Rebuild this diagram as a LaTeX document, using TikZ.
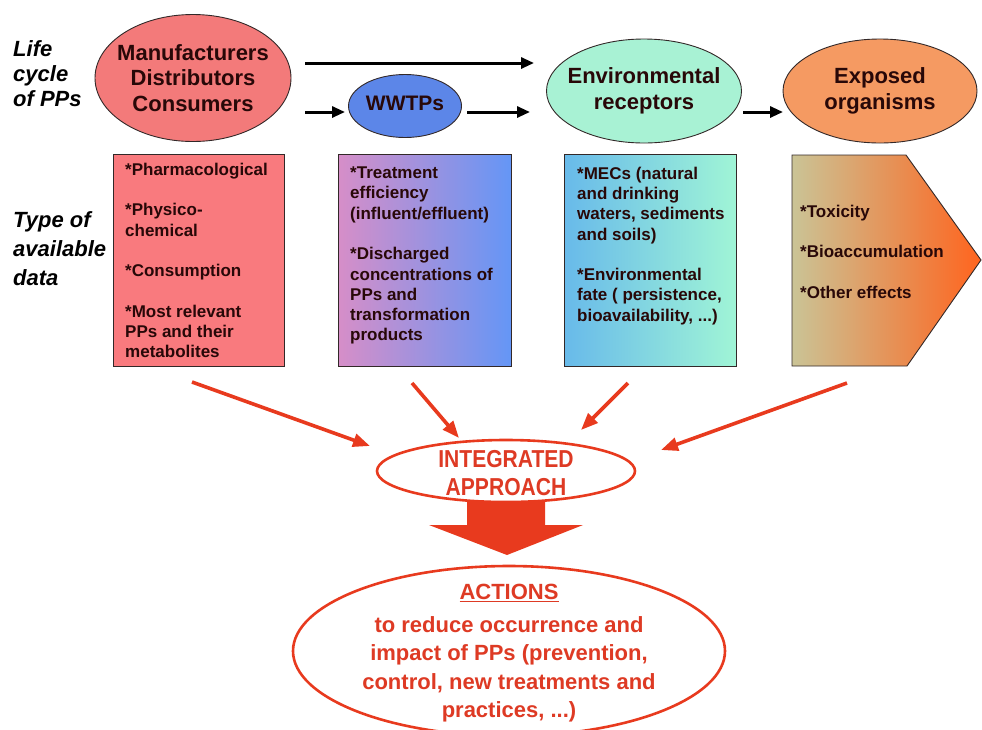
\documentclass[tikz,border=0pt]{standalone}
\usepackage{fontspec}
\setmainfont{Liberation Sans}
\newfontfamily\narrowfont[FakeStretch=0.86]{Liberation Sans}
\usetikzlibrary{shapes.geometric,arrows.meta}
\definecolor{ellred}{RGB}{243,122,122}
\definecolor{boxred}{RGB}{249,122,126}
\definecolor{wwtpblue}{RGB}{92,134,232}
\definecolor{envgreen}{RGB}{168,242,212}
\definecolor{exporange}{RGB}{245,154,98}
\definecolor{btwoleft}{RGB}{214,142,200}
\definecolor{btworight}{RGB}{100,150,246}
\definecolor{bthreeleft}{RGB}{104,186,234}
\definecolor{bthreeright}{RGB}{160,245,214}
\definecolor{bfourleft}{RGB}{202,196,150}
\definecolor{bfourright}{RGB}{255,100,30}
\definecolor{redline}{RGB}{232,58,30}
\definecolor{redtext}{RGB}{222,58,36}
\definecolor{darktext}{RGB}{40,8,8}
\definecolor{edge}{RGB}{50,40,40}
\tikzset{
  x=1pt, y=-1pt,
  lifeell/.style={ellipse, draw=edge, line width=0.9pt, inner sep=0pt},
  elltext/.style={inner sep=0pt, align=center, text=darktext,
    font=\fontsize{22}{25.5}\selectfont\bfseries},
  boxtext/.style={anchor=north west, inner sep=0pt, align=left, text=darktext,
    font=\fontsize{17}{20.3}\selectfont\bfseries},
  sidelabel/.style={anchor=north west, inner sep=0pt, align=left, text=black,
    font=\fontsize{22}{25}\selectfont\bfseries\itshape},
  blackarrow/.style={line width=3pt, -{Triangle[length=13pt,width=11pt]}},
  redarrow/.style={draw=redline, line width=3.6pt, -{Triangle[length=17pt,width=13pt]}},
  redell/.style={ellipse, draw=redline, line width=2.6pt, fill=white, inner sep=0pt}
}
\begin{document}
\begin{tikzpicture}
\useasboundingbox (0,0) rectangle (982,729);
\clip (0,0) rectangle (982,729);

% side labels
\node[sidelabel] (lab1) at (13,40) {Life\\cycle\\of PPs};
\node[sidelabel, font=\fontsize{22}{29}\selectfont\bfseries\itshape] (lab2) at (13,211) {Type of\\available\\data};

% life cycle ellipses
\node[lifeell, fill=ellred, minimum width=196pt, minimum height=127pt] (man) at (193,78) {};
\node[elltext] (mant) at (193,78) {Manufacturers\\Distributors\\Consumers};
\node[lifeell, fill=wwtpblue, minimum width=113pt, minimum height=63pt] (wwtp) at (405,106) {};
\node[elltext, font=\fontsize{21}{25}\selectfont\bfseries] (wwtpt) at (405,103) {WWTPs};
\node[lifeell, fill=envgreen, minimum width=195pt, minimum height=104pt] (env) at (644,91) {};
\node[elltext] (envt) at (644,91) {Environmental\\receptors};
\node[lifeell, fill=exporange, minimum width=194pt, minimum height=104pt] (exp) at (880,91) {};
\node[elltext] (expt) at (880,91) {Exposed\\organisms};

% black arrows
\coordinate (ta) at (305,63);
\coordinate (tb) at (534,63);
\coordinate (aa) at (305,112);
\coordinate (ab) at (345,112);
\coordinate (ba) at (467,112);
\coordinate (bb) at (530,112);
\coordinate (ca) at (743,112);
\coordinate (cb) at (783,112);
\draw[blackarrow] (ta) -- (tb);
\draw[blackarrow] (aa) -- (ab);
\draw[blackarrow] (ba) -- (bb);
\draw[blackarrow] (ca) -- (cb);

% data boxes
\node[draw=edge, line width=0.9pt, fill=boxred, minimum width=171pt, minimum height=212pt, inner sep=0pt, anchor=north west] (b1) at (113,154) {};
\node[draw=edge, line width=0.9pt, left color=btwoleft, right color=btworight, minimum width=173pt, minimum height=212pt, inner sep=0pt, anchor=north west] (b2) at (338,154) {};
\node[draw=edge, line width=0.9pt, left color=bthreeleft, right color=bthreeright, minimum width=172pt, minimum height=212pt, inner sep=0pt, anchor=north west] (b3) at (564,154) {};
\shade[left color=bfourleft, right color=bfourright] (792,155) -- (906,155) -- (981,260) -- (907,366) -- (792,366) -- cycle;
\draw[draw=edge, line width=0.9pt] (792,155) -- (906,155) -- (981,260) -- (907,366) -- (792,366) -- cycle;

\node[boxtext] (t1) at (125,162.6) {*Pharmacological\\[20.3pt]*Physico-\\chemical\\[20.3pt]*Consumption\\[20.3pt]*Most relevant\\PPs and their\\metabolites};
\node[boxtext] (t2) at (350,166.6) {*Treatment\\efficiency\\(influent/effluent)\\[20.3pt]*Discharged\\concentrations of\\PPs and\\transformation\\products};
\node[boxtext] (t3) at (577,166.6) {*MECs (natural\\and drinking\\waters, sediments\\and soils)\\[20.3pt]*Environmental\\fate ( persistence,\\bioavailability, ...)};
\node[boxtext] (t4) at (800,204.6) {*Toxicity\\[20.3pt]*Bioaccumulation\\[20.3pt]*Other effects};

% big arrow
\fill[redline] (467,500) -- (545,500) -- (545,525) -- (583,525) -- (507,555) -- (429,525) -- (467,525) -- cycle;

% integrated approach
\node[redell, minimum width=258pt, minimum height=62pt] (int) at (506,471) {};
\node[inner sep=0pt, align=center, text=redtext, font=\fontsize{24.5}{28}\narrowfont\bfseries] (intt) at (506,473)
  {INTEGRATED\\APPROACH};

% red arrows
\coordinate (r1a) at (192,382);
\coordinate (r1b) at (370,446);
\coordinate (r2a) at (412,383);
\coordinate (r2b) at (459,438);
\coordinate (r3a) at (628,383);
\coordinate (r3b) at (581,430);
\coordinate (r4a) at (847,383);
\coordinate (r4b) at (661,450);
\draw[redarrow] (r1a) -- (r1b);
\draw[redarrow] (r2a) -- (r2b);
\draw[redarrow] (r3a) -- (r3b);
\draw[redarrow] (r4a) -- (r4b);

% actions
\node[redell, minimum width=432pt, minimum height=170pt] (act) at (509,651) {};
\node[anchor=north, inner sep=0pt, align=center, text=redtext, font=\fontsize{22}{28.5}\selectfont\bfseries] (actt) at (509,584)
  {\underline{ACTIONS}\\[4pt]to reduce occurrence and\\impact of PPs (prevention,\\control, new treatments and\\practices, ...)};
\end{tikzpicture}
\end{document}
